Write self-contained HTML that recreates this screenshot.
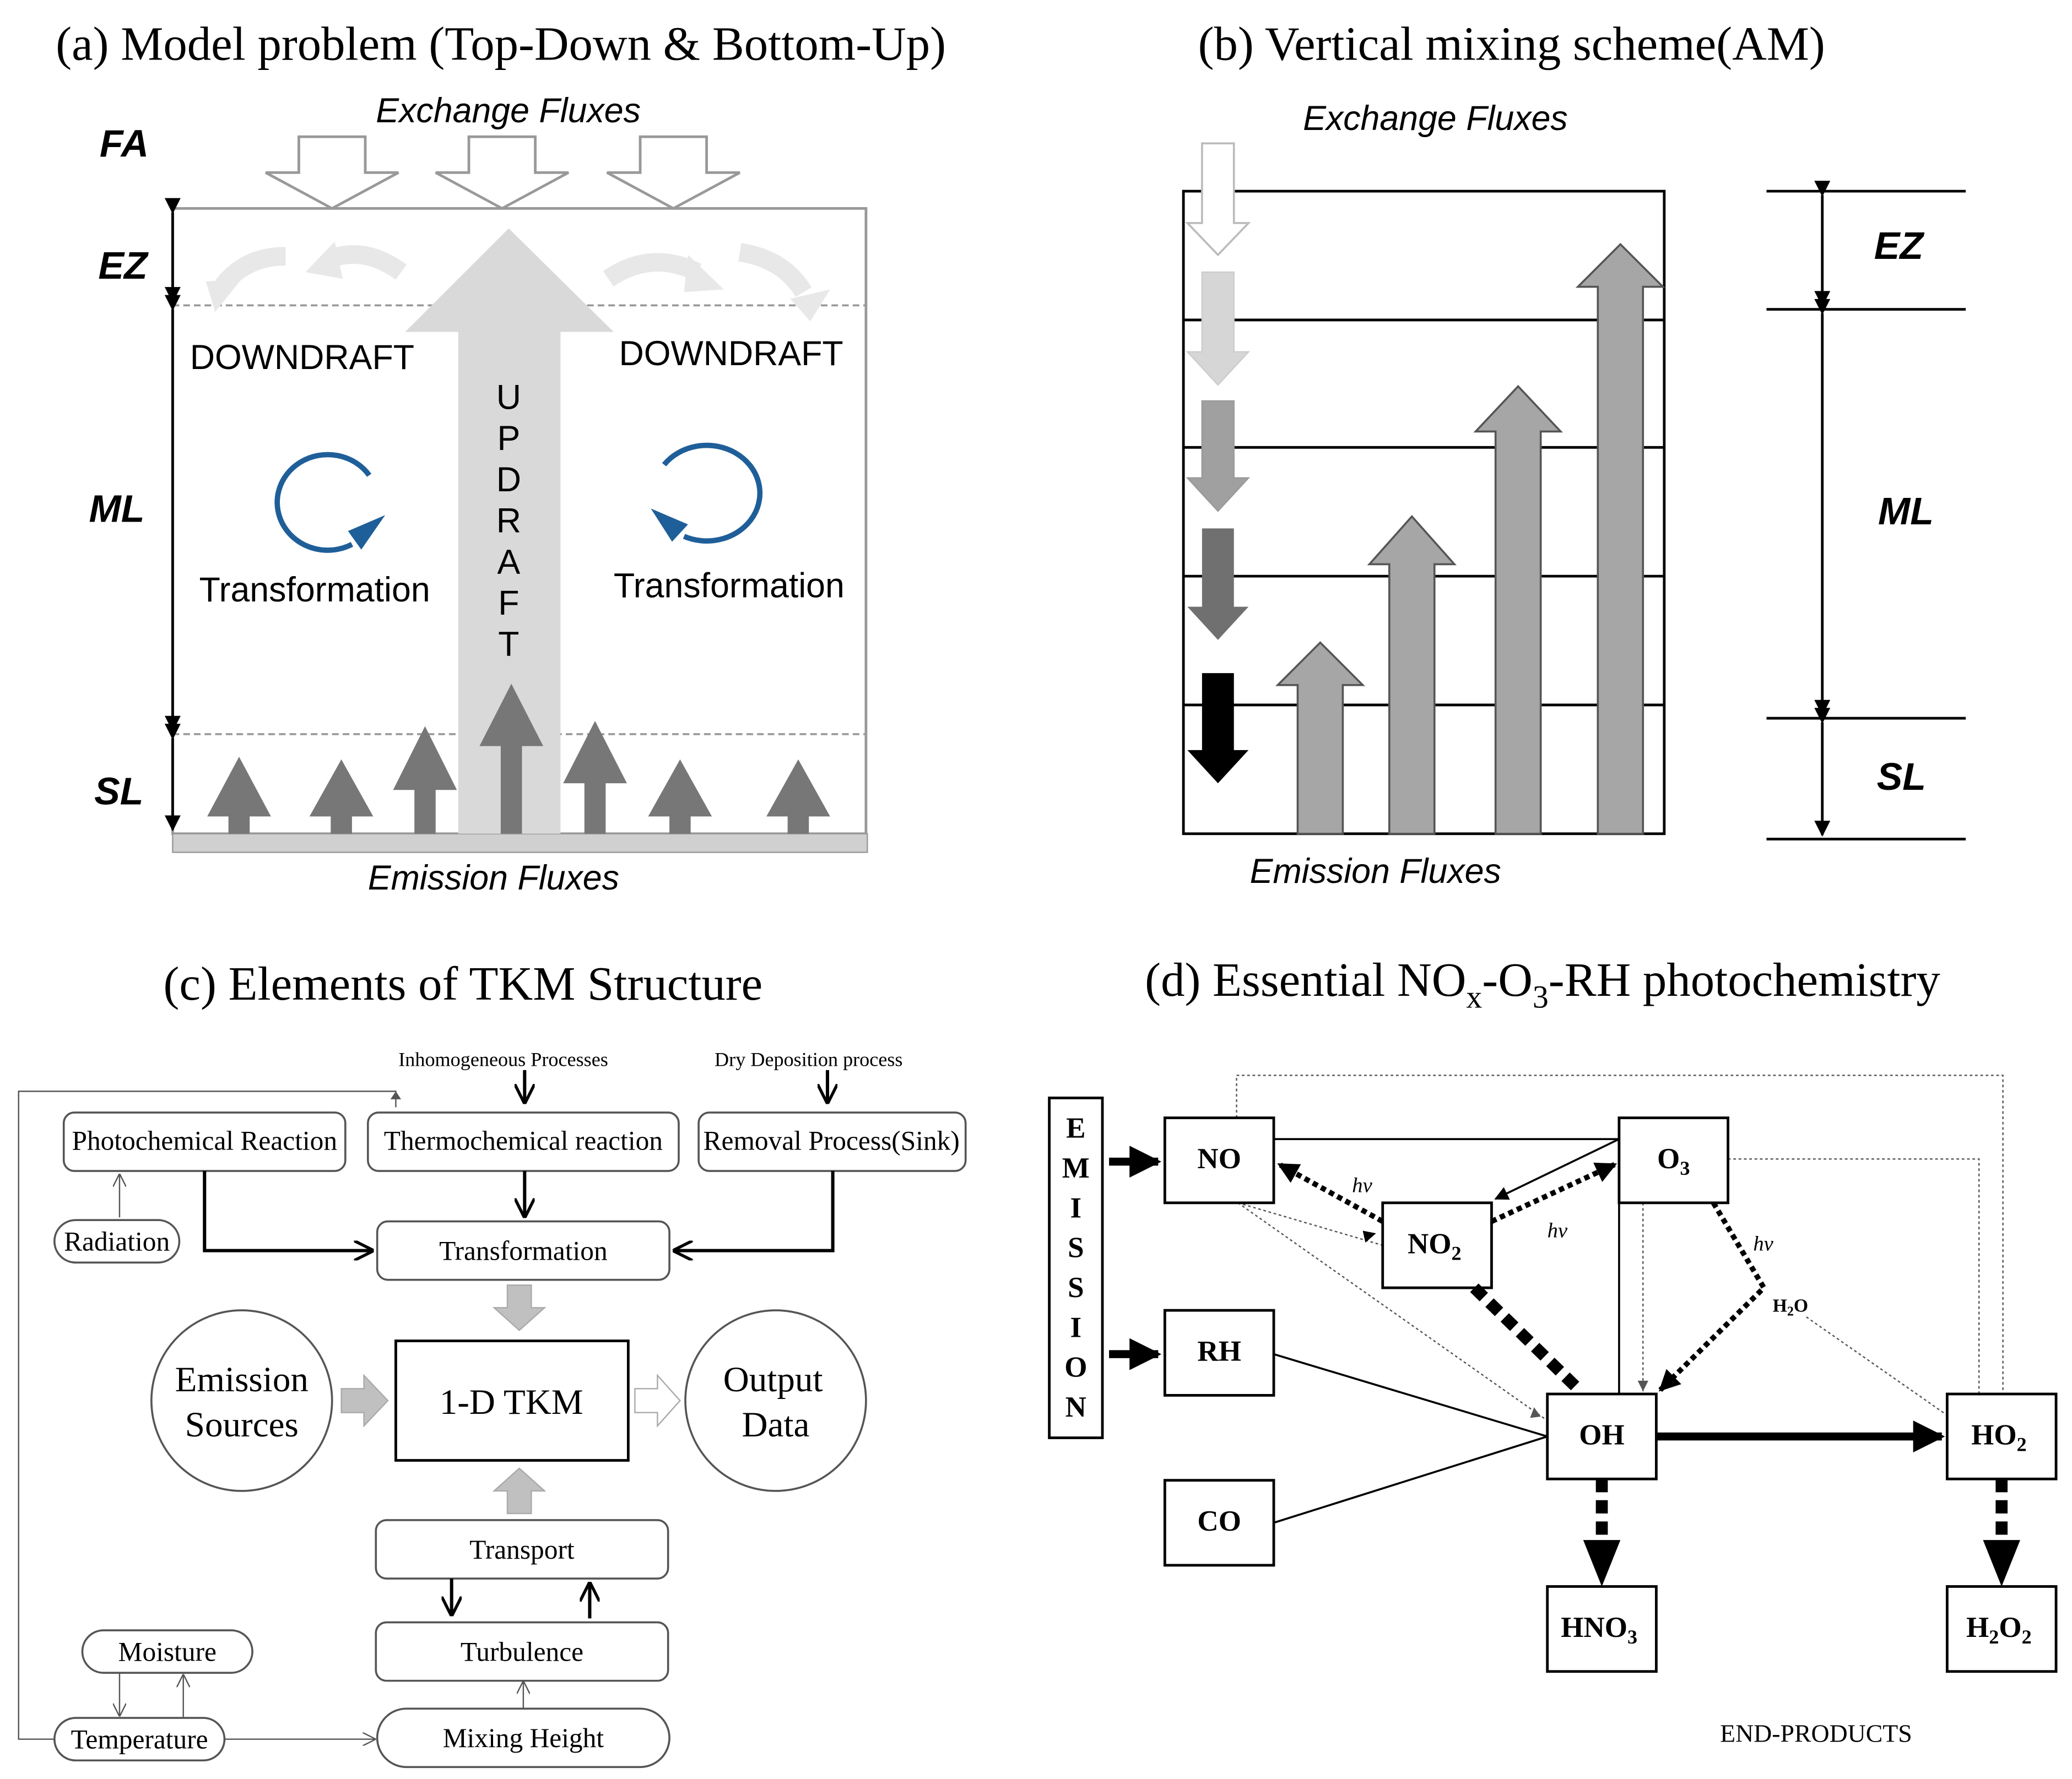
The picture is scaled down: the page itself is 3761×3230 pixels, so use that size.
<!DOCTYPE html>
<html><head><meta charset="utf-8"><style>
html,body{margin:0;padding:0;background:#fff;}
svg{display:block;}
.s{font-family:"Liberation Serif",serif;}
.a{font-family:"Liberation Sans",sans-serif;}
</style></head><body>
<svg width="3761" height="3230" viewBox="0 0 1560 1340" preserveAspectRatio="none" xmlns="http://www.w3.org/2000/svg">
<defs>
<marker id="ah" viewBox="0 0 10 10" refX="9" refY="5" markerWidth="7" markerHeight="7" orient="auto-start-reverse"><path d="M0,0 L10,5 L0,10 z" fill="#000"/></marker>
<marker id="ao" viewBox="0 0 10 10" refX="9" refY="5" markerWidth="6" markerHeight="6" orient="auto-start-reverse"><path d="M0,0 L10,5 L0,10" fill="none" stroke="#000" stroke-width="1.5"/></marker>
<marker id="at" viewBox="0 0 10 10" refX="9" refY="5" markerWidth="10" markerHeight="10" orient="auto-start-reverse"><path d="M0,0 L10,5 L0,10" fill="none" stroke="#555" stroke-width="1"/></marker>
<marker id="ab" viewBox="0 0 10 10" refX="9" refY="5" markerWidth="4" markerHeight="4" orient="auto"><path d="M0,0 L10,5 L0,10 z" fill="#000"/></marker>
<marker id="abig" viewBox="0 0 10 10" refX="9" refY="5" markerWidth="8" markerHeight="6" orient="auto"><path d="M0,0 L10,5 L0,10 z" fill="#000"/></marker>
</defs>
<rect width="1560" height="1340" fill="#fff"/>

<!-- Panel a -->
<text x="42" y="45" class="s" font-size="36">(a) Model problem (Top-Down &amp; Bottom-Up)</text>
<text x="283" y="92" class="a" font-size="26" font-style="italic">Exchange Fluxes</text>
<text x="75" y="118" class="a" font-size="29" font-weight="bold" font-style="italic">FA</text>
<rect x="130" y="157" width="522" height="471" fill="none" stroke="#999" stroke-width="2"/>
<g fill="#fff" stroke="#999" stroke-width="2">
<path d="M225,103 H275 V130 H300 L250,157 L200,130 H225 Z"/>
<path d="M353,103 H403 V130 H428 L378,157 L328,130 H353 Z"/>
<path d="M482,103 H532 V130 H557 L507,157 L457,130 H482 Z"/>
</g>
<line x1="130" y1="230" x2="652" y2="230" stroke="#999" stroke-width="1.5" stroke-dasharray="5,3"/>
<line x1="130" y1="553" x2="652" y2="553" stroke="#999" stroke-width="1.5" stroke-dasharray="5,3"/>
<rect x="130" y="628" width="523" height="14" fill="#d0d0d0" stroke="#999"/>
<path d="M345,628 V250 H305 L383,172 L462,250 H422 V628 Z" fill="#d9d9d9"/>
<g fill="none" stroke="#e8e8e8" stroke-width="14">
<path d="M215,193 Q185,193 168,215"/><path d="M302,205 Q275,185 248,195"/>
<path d="M458,210 Q490,188 525,205"/><path d="M557,190 Q590,195 605,220"/>
</g>
<g fill="#e8e8e8">
<path d="M155,212 L182,210 L162,235Z"/><path d="M252,182 L230,205 L258,210Z"/>
<path d="M518,192 L545,218 L515,220Z"/><path d="M595,225 L625,218 L610,242Z"/>
</g>
<g fill="#777">
<path d="M172,628 V615 H156 L180,570 L204,615 H188 V628Z"/>
<path d="M249,628 V615 H233 L257,572 L281,615 H265 V628Z"/>
<path d="M312,628 V595 H296 L320,547 L344,595 H328 V628Z"/>
<path d="M377,628 V562 H361 L385,515 L409,562 H393 V628Z"/>
<path d="M440,628 V590 H424 L448,543 L472,590 H456 V628Z"/>
<path d="M504,628 V615 H488 L512,572 L536,615 H520 V628Z"/>
<path d="M593,628 V615 H577 L601,572 L625,615 H609 V628Z"/>
</g>
<g stroke="#000" stroke-width="2">
<line x1="130" y1="160" x2="130" y2="227" marker-start="url(#abig)" marker-end="url(#abig)"/>
<line x1="130" y1="233" x2="130" y2="550" marker-start="url(#abig)" marker-end="url(#abig)"/>
<line x1="130" y1="556" x2="130" y2="625" marker-start="url(#abig)" marker-end="url(#abig)"/>
</g>
<g class="a" font-size="29" font-weight="bold" font-style="italic">
<text x="74" y="210">EZ</text><text x="67" y="393">ML</text><text x="71" y="606">SL</text></g>
<g class="a" font-size="26">
<text x="143" y="278">DOWNDRAFT</text><text x="466" y="275">DOWNDRAFT</text>
<text x="150" y="453">Transformation</text><text x="462" y="450">Transformation</text>
<g text-anchor="middle"><text x="383" y="308">U</text><text x="383" y="339">P</text><text x="383" y="370">D</text><text x="383" y="401">R</text><text x="383" y="432">A</text><text x="383" y="463">F</text><text x="383" y="494">T</text></g>
</g>
<path d="M278,358 A38,36 0 1 0 265,410" fill="none" stroke="#1f5f99" stroke-width="4"/>
<path d="M262,400 L290,388 L272,414 Z" fill="#1f5f99"/>
<path d="M500,350 A40,36 0 1 1 515,404" fill="none" stroke="#1f5f99" stroke-width="4"/>
<path d="M518,395 L490,383 L506,408 Z" fill="#1f5f99"/>
<text x="277" y="670" class="a" font-size="26" font-style="italic">Emission Fluxes</text>

<!-- Panel b -->
<text x="902" y="45" class="s" font-size="36">(b) Vertical mixing scheme(AM)</text>
<text x="981" y="98" class="a" font-size="26" font-style="italic">Exchange Fluxes</text>
<rect x="891" y="144" width="362" height="484" fill="none" stroke="#000" stroke-width="2"/>
<g stroke="#000" stroke-width="2"><line x1="891" y1="241" x2="1253" y2="241"/><line x1="891" y1="337" x2="1253" y2="337"/><line x1="891" y1="434" x2="1253" y2="434"/><line x1="891" y1="531" x2="1253" y2="531"/></g>
<path d="M905,108 H929 V168 H940 L917,192 L894,168 H905Z" fill="#fff" stroke="#bbb" stroke-width="1.5"/>
<path d="M905,205 H929 V265 H940 L917,290 L894,265 H905Z" fill="#d6d6d6" stroke="#ccc"/>
<path d="M905,302 H929 V360 H940 L917,385 L894,360 H905Z" fill="#a0a0a0" stroke="#999"/>
<path d="M905,398 H929 V457 H940 L917,482 L894,457 H905Z" fill="#707070"/>
<path d="M905,507 H929 V565 H940 L917,590 L894,565 H905Z" fill="#000"/>
<g fill="#a6a6a6" stroke="#555" stroke-width="1.5">
<path d="M977,628 V516 H962 L994,484 L1026,516 H1011 V628Z"/>
<path d="M1046,628 V425 H1031 L1063,389 L1095,425 H1080 V628Z"/>
<path d="M1126,628 V325 H1111 L1143,291 L1175,325 H1160 V628Z"/>
<path d="M1203,628 V216 H1188 L1220,184 L1252,216 H1237 V628Z"/>
</g>
<g stroke="#000" stroke-width="2"><line x1="1330" y1="144" x2="1480" y2="144"/><line x1="1330" y1="233" x2="1480" y2="233"/><line x1="1330" y1="541" x2="1480" y2="541"/><line x1="1330" y1="632" x2="1480" y2="632"/>
<line x1="1372" y1="147" x2="1372" y2="230" marker-start="url(#abig)" marker-end="url(#abig)"/>
<line x1="1372" y1="236" x2="1372" y2="538" marker-start="url(#abig)" marker-end="url(#abig)"/>
<line x1="1372" y1="544" x2="1372" y2="629" marker-start="url(#abig)" marker-end="url(#abig)"/></g>
<g class="a" font-size="29" font-weight="bold" font-style="italic">
<text x="1411" y="195">EZ</text><text x="1414" y="395">ML</text><text x="1413" y="595">SL</text></g>
<text x="941" y="665" class="a" font-size="26" font-style="italic">Emission Fluxes</text>

<!-- Panel c -->
<text x="123" y="753" class="s" font-size="36">(c) Elements of TKM Structure</text>
<g fill="#fff" stroke="#555" stroke-width="1.5">
<rect x="48" y="838" width="212" height="44" rx="8"/>
<rect x="277" y="838" width="234" height="44" rx="8"/>
<rect x="526" y="838" width="201" height="44" rx="8"/>
<rect x="41" y="919" width="94" height="32" rx="16"/>
<rect x="284" y="920" width="220" height="44" rx="8"/>
<rect x="298" y="1010" width="175" height="90" stroke="#000" stroke-width="2"/>
<circle cx="182" cy="1055" r="68"/><circle cx="584" cy="1055" r="68"/>
<rect x="283" y="1145" width="220" height="44" rx="8"/>
<rect x="283" y="1222" width="220" height="44" rx="8"/>
<rect x="62" y="1228" width="128" height="32" rx="16"/>
<rect x="41" y="1294" width="128" height="32" rx="16"/>
<rect x="284" y="1287" width="220" height="44" rx="22"/>
</g>
<g class="s" font-size="20.5" text-anchor="middle">
<text x="154" y="866">Photochemical Reaction</text>
<text x="394" y="866">Thermochemical reaction</text>
<text x="626" y="866">Removal Process(Sink)</text>
<text x="88" y="942">Radiation</text>
<text x="394" y="949">Transformation</text>
<text x="393" y="1174">Transport</text>
<text x="393" y="1251">Turbulence</text>
<text x="126" y="1251">Moisture</text>
<text x="105" y="1317">Temperature</text>
<text x="394" y="1316">Mixing Height</text>
<text x="385" y="1065" font-size="27">1-D TKM</text>
<text x="182" y="1048" font-size="27">Emission</text><text x="182" y="1082" font-size="27">Sources</text>
<text x="582" y="1048" font-size="27">Output</text><text x="584" y="1082" font-size="27">Data</text>
</g>
<g class="s" font-size="15"><text x="300" y="803">Inhomogeneous  Processes</text><text x="538" y="803">Dry Deposition process</text></g>
<g stroke="#000" stroke-width="2.5" fill="none">
<line x1="395" y1="806" x2="395" y2="830" marker-end="url(#ao)"/>
<line x1="623" y1="806" x2="623" y2="830" marker-end="url(#ao)"/>
<line x1="395" y1="882" x2="395" y2="916" marker-end="url(#ao)"/>
<polyline points="154,882 154,942 280,942" marker-end="url(#ao)"/>
<polyline points="627,882 627,942 508,942" marker-end="url(#ao)"/>
<line x1="340" y1="1189" x2="340" y2="1216" marker-end="url(#ao)"/>
<line x1="444" y1="1219" x2="444" y2="1193" marker-end="url(#ao)"/>
</g>
<g stroke="#555" stroke-width="1" fill="none">
<polyline points="298,834 298,822 14,822 14,1310 41,1310" />
<line x1="169" y1="1310" x2="282" y2="1310" marker-end="url(#at)"/>
<line x1="394" y1="1287" x2="394" y2="1267" marker-end="url(#at)"/>
<line x1="90" y1="1260" x2="90" y2="1292" marker-end="url(#at)"/>
<line x1="138" y1="1294" x2="138" y2="1262" marker-end="url(#at)"/>
<line x1="90" y1="917" x2="90" y2="885" marker-end="url(#at)"/>
</g>
<path d="M298,822 L294,828 L302,828Z" fill="#555"/>
<g fill="#c0c0c0" stroke="#aaa">
<path d="M382,968 H400 V985 H410 L391,1002 L372,985 H382Z"/>
<path d="M257,1046 H274 V1036 L292,1055 L274,1074 V1064 H257Z"/>
<path d="M382,1140 H400 V1123 H410 L391,1106 L372,1123 H382Z"/>
</g>
<path d="M478,1046 H495 V1036 L512,1055 L495,1074 V1064 H478Z" fill="#fff" stroke="#aaa"/>

<!-- Panel d -->
<text x="862" y="750" class="s" font-size="36">(d) Essential NO<tspan font-size="24" dy="9">x</tspan><tspan dy="-9">-O</tspan><tspan font-size="24" dy="9">3</tspan><tspan dy="-9">-RH photochemistry</tspan></text>
<g fill="none" stroke="#555" stroke-width="1" stroke-dasharray="2,2">
<polyline points="931,842 931,810 1508,810 1508,1050"/>
<polyline points="1301,873 1490,873 1490,1050"/>
<line x1="932" y1="906" x2="1041" y2="938"/>
<line x1="932" y1="906" x2="1165" y2="1070"/>
<line x1="1237" y1="906" x2="1237" y2="1048"/>
<line x1="1360" y1="992" x2="1466" y2="1066"/>
</g>
<g fill="#fff" stroke="#000" stroke-width="2">
<rect x="790" y="827" width="40" height="256"/>
<rect x="877" y="842" width="82" height="64"/><rect x="1219" y="842" width="82" height="64"/>
<rect x="1041" y="906" width="82" height="64"/><rect x="877" y="987" width="82" height="64"/>
<rect x="1165" y="1050" width="82" height="64"/><rect x="1466" y="1050" width="82" height="64"/>
<rect x="877" y="1115" width="82" height="64"/><rect x="1165" y="1195" width="82" height="64"/>
<rect x="1466" y="1195" width="82" height="64"/>
</g>
<g class="s" font-size="22" font-weight="bold" text-anchor="middle">
<text x="810" y="857">E</text><text x="810" y="887">M</text><text x="810" y="917">I</text><text x="810" y="947">S</text><text x="810" y="977">S</text><text x="810" y="1007">I</text><text x="810" y="1037">O</text><text x="810" y="1067">N</text>
<text x="918" y="880">NO</text><text x="1260" y="880">O<tspan font-size="15" dy="5">3</tspan></text>
<text x="1080" y="944">NO<tspan font-size="15" dy="5">2</tspan></text>
<text x="918" y="1025">RH</text><text x="1206" y="1088">OH</text>
<text x="1505" y="1088">HO<tspan font-size="15" dy="5">2</tspan></text>
<text x="918" y="1153">CO</text>
<text x="1204" y="1233">HNO<tspan font-size="15" dy="5">3</tspan></text>
<text x="1505" y="1233">H<tspan font-size="15" dy="5">2</tspan><tspan dy="-5">O</tspan><tspan font-size="15" dy="5">2</tspan></text>
<text x="1348" y="988" font-size="14">H<tspan font-size="10" dy="3">2</tspan><tspan dy="-3">O</tspan></text>
</g>
<g class="s" font-size="16" font-style="italic"><text x="1018" y="898">hv</text><text x="1165" y="932">hv</text><text x="1320" y="942">hv</text></g>
<text x="1295" y="1312" class="s" font-size="19">END-PRODUCTS</text>
<g stroke="#000" fill="none">
<line x1="835" y1="875" x2="872" y2="875" stroke-width="6" marker-end="url(#ab)"/>
<line x1="835" y1="1020" x2="872" y2="1020" stroke-width="6" marker-end="url(#ab)"/>
<line x1="959" y1="858" x2="1219" y2="858" stroke-width="1.5"/>
<line x1="1219" y1="858" x2="1126" y2="903" stroke-width="1.5" marker-end="url(#ah)"/>
<line x1="1123" y1="920" x2="1216" y2="877" stroke-width="4" stroke-dasharray="4,3" marker-end="url(#ab)"/>
<line x1="1041" y1="920" x2="963" y2="877" stroke-width="4" stroke-dasharray="4,3" marker-end="url(#ab)"/>
<line x1="1110" y1="970" x2="1190" y2="1048" stroke-width="9" stroke-dasharray="10,6"/>
<line x1="1219" y1="906" x2="1219" y2="1050" stroke-width="1.5"/>
<polyline points="1290,906 1328,970 1250,1047" stroke-width="4" stroke-dasharray="4,3" marker-end="url(#ab)"/>
<line x1="959" y1="1020" x2="1165" y2="1082" stroke-width="1.5"/>
<line x1="959" y1="1147" x2="1165" y2="1082" stroke-width="1.5"/>
<line x1="1247" y1="1082" x2="1462" y2="1082" stroke-width="6" marker-end="url(#ab)"/>
<line x1="1206" y1="1114" x2="1206" y2="1165" stroke-width="9" stroke-dasharray="10,6"/>
<line x1="1507" y1="1114" x2="1507" y2="1165" stroke-width="9" stroke-dasharray="10,6"/>
</g>
<path d="M1192,1160 L1220,1160 L1206,1195Z"/>
<path d="M1493,1160 L1521,1160 L1507,1195Z"/>
<path d="M1036,929 L1028,936 L1026,927Z"/>
<path d="M1160,1067 L1152,1068 L1155,1060Z" fill="#555"/>
<path d="M1237,1048 L1233,1040 L1241,1040Z" fill="#555"/>
</svg>
</body></html>
